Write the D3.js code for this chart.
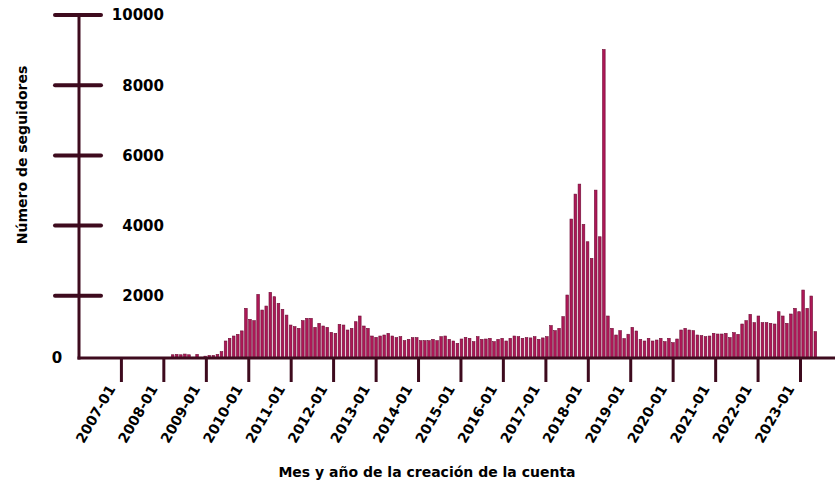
<!DOCTYPE html>
<html>
<head>
<meta charset="utf-8">
<script src="https://cdn.jsdelivr.net/npm/d3@7"></script>
<style>
  html, body { margin: 0; padding: 0; background: #ffffff; }
  svg { display: block; }
  text { font-family: "DejaVu Sans", Roboto, sans-serif; font-weight: bold; fill: #000; }
</style>
</head>
<body>
<svg id="chart" width="837" height="486"></svg>
<script>
// ---- Data ----
// Histogram of account creation dates (35-day bins) from binStart to binEnd
const binStart = "2008-02-29";
const binEnd = "2023-05-26";
const counts = [
  320, 330, 320, 340, 320, 250, 330, 250, 280, 300,
  300, 330, 408, 712, 788, 854, 902, 1000, 1642, 1329,
  1291, 2040, 1594, 1708, 2098, 1974, 1784, 1614, 1450, 1167,
  1120, 1072, 1291, 1357, 1357, 1101, 1215, 1139, 1101, 959,
  930, 1186, 1167, 1025, 1072, 1262, 1424, 1139, 1072, 854,
  816, 854, 883, 930, 854, 807, 835, 721, 759, 807,
  807, 721, 721, 721, 759, 721, 835, 854, 759, 712,
  645, 769, 816, 788, 693, 835, 759, 769, 788, 693,
  759, 788, 712, 788, 854, 835, 788, 807, 800, 835,
  760, 800, 835, 1150, 1006, 1073, 1405, 2022, 4186, 4897,
  5182, 4034, 3540, 3066, 5011, 3682, 9017, 1424, 1073, 883,
  1006, 780, 905, 1101, 997, 759, 712, 788, 712, 740,
  788, 693, 788, 664, 769, 1025, 1072, 1025, 1006, 883,
  864, 835, 854, 930, 911, 911, 930, 807, 949, 902,
  1196, 1291, 1471, 1234, 1424, 1234, 1234, 1215, 1196, 1547,
  1424, 1215, 1481, 1642, 1547, 2164, 1642, 1993, 978
];
const yTicks = [2000, 4000, 6000, 8000, 10000];
const xTickYears = ["2007-01","2008-01","2009-01","2010-01","2011-01","2012-01","2013-01","2014-01","2015-01","2016-01","2017-01","2018-01","2019-01","2020-01","2021-01","2022-01","2023-01"];
const xDomain = ["2006-01-01", "2023-10-25"];
const yTitle = "Número de seguidores";
const xTitle = "Mes y año de la creación de la cuenta";

// ---- Layout ----
const axisColor = "#3e0b1e";
const barFill = "#ad1857";
const barStroke = "#6e0c35";
const plotLeft = 79, plotRight = 835, plotTop = 15, baseY = 358;

const svg = d3.select("#chart");
const parse = d3.utcParse("%Y-%m-%d");
const parseYM = d3.utcParse("%Y-%m");

const x = d3.scaleUtc().domain(xDomain.map(parse)).range([plotLeft, plotRight]);
const y = d3.scaleLinear().domain([0, 10000]).range([366, plotTop]);

const band = d3.scaleBand()
  .domain(d3.range(counts.length))
  .range([x(parse(binStart)), x(parse(binEnd))])
  .paddingInner(0.35).paddingOuter(0.17);

// clip bars at the x-axis line
svg.append("defs").append("clipPath").attr("id", "clip")
  .append("rect").attr("x", plotLeft).attr("y", 0).attr("width", plotRight - plotLeft).attr("height", baseY);

svg.append("g").attr("clip-path", "url(#clip)")
  .selectAll("rect").data(counts).join("rect")
  .attr("x", (d, i) => band(i))
  .attr("width", band.bandwidth())
  .attr("y", d => y(d))
  .attr("height", d => y(0) - y(d))
  .attr("fill", barFill)
  .attr("stroke", barStroke)
  .attr("stroke-width", 0.6);

// Y axis
const gy = svg.append("g");
gy.append("line").attr("x1", plotLeft).attr("x2", plotLeft)
  .attr("y1", y(10000)).attr("y2", baseY + 1.5)
  .attr("stroke", axisColor).attr("stroke-width", 3);
gy.selectAll(".yt").data(yTicks).join("line")
  .attr("x1", plotLeft - 24).attr("x2", plotLeft + 22)
  .attr("y1", d => y(d)).attr("y2", d => y(d))
  .attr("stroke", axisColor).attr("stroke-width", 4).attr("stroke-linecap", "round");
gy.selectAll(".yl").data(yTicks).join("text")
  .attr("x", 164).attr("y", d => y(d)).attr("dy", "0.36em")
  .attr("text-anchor", "end").attr("font-size", 15)
  .text(d => d3.format("d")(d));
gy.append("text").attr("x", 57).attr("y", baseY).attr("dy", "0.36em")
  .attr("text-anchor", "middle").attr("font-size", 15).text("0");

// X axis
const gx = svg.append("g");
gx.append("line").attr("x1", plotLeft - 1.5).attr("x2", plotRight)
  .attr("y1", baseY).attr("y2", baseY)
  .attr("stroke", axisColor).attr("stroke-width", 3);
gx.selectAll(".xt").data(xTickYears).join("line")
  .attr("x1", d => x(parseYM(d))).attr("x2", d => x(parseYM(d)))
  .attr("y1", baseY).attr("y2", baseY + 24)
  .attr("stroke", axisColor).attr("stroke-width", 3);
gx.selectAll(".xl").data(xTickYears).join("text")
  .attr("transform", d => `translate(${x(parseYM(d)) - 10},${baseY + 28}) rotate(-60)`)
  .attr("dy", "0.36em")
  .attr("text-anchor", "end").attr("font-size", 14)
  .text(d => d);

// Titles
svg.append("text")
  .attr("transform", `translate(22,155) rotate(-90)`)
  .attr("dy", "0.36em")
  .attr("text-anchor", "middle").attr("font-size", 14)
  .text(yTitle);
svg.append("text")
  .attr("x", 427).attr("y", 472).attr("dy", "0.36em")
  .attr("text-anchor", "middle").attr("font-size", 14)
  .text(xTitle);
</script>
</body>
</html>
